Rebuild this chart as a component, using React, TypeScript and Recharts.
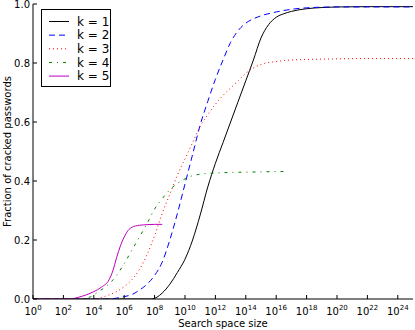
import React from 'react';
import { LineChart, Line, XAxis, YAxis, Legend } from 'recharts';

// log10(search space size) ticks
const xTicks = [0, 2, 4, 6, 8, 10, 12, 14, 16, 18, 20, 22, 24];
const yTicks = [0, 0.2, 0.4, 0.6, 0.8, 1.0];
const seriesNames = ['k = 1', 'k = 2', 'k = 3', 'k = 4', 'k = 5'];

const k1Log = [0, 7.8, 8.5, 9, 9.5, 10, 10.5, 11, 11.5, 12, 12.5, 13, 13.5, 14, 14.5, 15, 15.5, 16, 16.5, 17, 18, 19, 20, 22, 25];
const k1Frac = [0, 0, 0.02, 0.05, 0.09, 0.135, 0.2, 0.285, 0.38, 0.46, 0.53, 0.6, 0.67, 0.74, 0.81, 0.885, 0.93, 0.955, 0.967, 0.975, 0.984, 0.988, 0.99, 0.991, 0.991];

const k2Log = [0, 5, 5.5, 6, 6.5, 7, 7.5, 8, 8.5, 9, 9.5, 10, 10.5, 11, 11.5, 12, 12.5, 13, 13.5, 14, 14.5, 15, 16, 17, 18, 20, 25];
const k2Frac = [0, 0, 0.003, 0.008, 0.015, 0.03, 0.05, 0.08, 0.125, 0.2, 0.29, 0.39, 0.49, 0.59, 0.67, 0.745, 0.81, 0.87, 0.91, 0.935, 0.95, 0.96, 0.973, 0.982, 0.987, 0.99, 0.99];

const k3Log = [0, 4, 4.5, 5, 5.5, 6, 6.5, 7, 7.5, 8, 8.5, 9, 9.5, 10, 10.5, 11, 11.5, 12, 12.5, 13, 13.5, 14, 14.5, 15, 16, 17, 18, 20, 22, 25];
const k3Frac = [0, 0, 0.005, 0.014, 0.025, 0.042, 0.065, 0.1, 0.15, 0.215, 0.29, 0.355, 0.42, 0.475, 0.53, 0.585, 0.625, 0.66, 0.69, 0.715, 0.74, 0.765, 0.783, 0.795, 0.805, 0.81, 0.812, 0.814, 0.815, 0.815];

const k4Log = [0, 3.3, 3.8, 4.3, 4.8, 5.5, 6, 6.5, 7, 7.5, 8, 8.5, 9, 9.5, 10, 10.5, 11, 12, 13, 14, 15, 16, 16.7];
const k4Frac = [0, 0, 0.008, 0.025, 0.042, 0.08, 0.12, 0.165, 0.21, 0.255, 0.305, 0.34, 0.37, 0.392, 0.407, 0.418, 0.423, 0.427, 0.429, 0.43, 0.431, 0.432, 0.432];

const k5Log = [0, 2.4, 3, 3.5, 4, 4.5, 5, 5.25, 5.5, 5.75, 6, 6.25, 6.5, 7, 7.5, 8, 8.5];
const k5Frac = [0, 0, 0.006, 0.014, 0.025, 0.04, 0.065, 0.095, 0.14, 0.18, 0.21, 0.232, 0.243, 0.25, 0.252, 0.253, 0.253];

const toPoints = (xs: number[], ys: number[]) => xs.map((x, i) => ({ x, y: ys[i] }));

const series = [
  { name: seriesNames[0], data: toPoints(k1Log, k1Frac), color: '#000000', dash: undefined as string | undefined },
  { name: seriesNames[1], data: toPoints(k2Log, k2Frac), color: '#0000ff', dash: '6 4' },
  { name: seriesNames[2], data: toPoints(k3Log, k3Frac), color: '#ff0000', dash: '1 3' },
  { name: seriesNames[3], data: toPoints(k4Log, k4Frac), color: '#008000', dash: '3 5 1 5' },
  { name: seriesNames[4], data: toPoints(k5Log, k5Frac), color: '#bf00bf', dash: undefined },
];

const FONT = 'DejaVu Sans';

const BottomTick = (props: any) => {
  const { x, y, payload } = props;
  return (
    <g>
      <line x1={x} x2={x} y1={y} y2={y - 4} stroke="#000" strokeWidth={1} />
      <text x={x} y={y + 16} textAnchor="middle" fontSize={10} fontFamily={FONT} fill="#000">
        <tspan>10</tspan>
        <tspan dy={-5} fontSize={7}>{payload.value}</tspan>
      </text>
    </g>
  );
};

const TopTick = (props: any) => {
  const { x, y } = props;
  return <line x1={x} x2={x} y1={y} y2={y + 4} stroke="#000" strokeWidth={1} />;
};

const LeftTick = (props: any) => {
  const { x, y, payload } = props;
  return (
    <g>
      <line x1={x} x2={x + 4} y1={y} y2={y} stroke="#000" strokeWidth={1} />
      <text x={x - 3} y={y + 3.6} textAnchor="end" fontSize={10} fontFamily={FONT} fill="#000">
        {Number(payload.value).toFixed(1)}
      </text>
    </g>
  );
};

const RightTick = (props: any) => {
  const { x, y } = props;
  return <line x1={x} x2={x - 4} y1={y} y2={y} stroke="#000" strokeWidth={1} />;
};

const LegendBox = () => {
  const rowH = 13.65;
  return (
    <svg width={70} height={78} style={{ display: 'block' }}>
      <rect x={0.5} y={0.5} width={69} height={77} fill="#fff" stroke="#000" strokeWidth={1} />
      {series.map((s, i) => {
        const cy = 12.5 + i * rowH;
        return (
          <g key={s.name}>
            <line x1={8} x2={28} y1={cy} y2={cy} stroke={s.color} strokeWidth={1} strokeDasharray={s.dash} />
            <text x={36} y={cy + 4.3} fontSize={12} fontFamily={FONT} fill="#000">{s.name}</text>
          </g>
        );
      })}
    </svg>
  );
};

export default function App() {
  return (
    <div style={{ position: 'absolute', left: 0, top: 0, width: 415, height: 330, background: '#fff' }}>
      <LineChart width={415} height={330} margin={{ top: 4, right: 2, bottom: 0, left: 0 }}>
        <XAxis
          xAxisId="bottom"
          dataKey="x"
          type="number"
          domain={[0, 25]}
          allowDataOverflow
          ticks={xTicks}
          interval={0}
          height={31}
          tickSize={0}
          tickMargin={0}
          tickLine={false}
          axisLine={{ stroke: '#000', strokeWidth: 1 }}
          tick={<BottomTick />}
          label={{
            content: (p: any) => (
              <text
                x={p.viewBox.x + p.viewBox.width / 2}
                y={p.viewBox.y + 28}
                textAnchor="middle"
                fontSize={10}
                fontFamily={FONT}
                fill="#000"
              >
                Search space size
              </text>
            ),
          }}
        />
        <XAxis
          xAxisId="top"
          orientation="top"
          dataKey="x"
          type="number"
          domain={[0, 25]}
          allowDataOverflow
          ticks={xTicks}
          interval={0}
          height={0}
          tickSize={0}
          tickMargin={0}
          tickLine={false}
          axisLine={{ stroke: '#000', strokeWidth: 1 }}
          tick={<TopTick />}
        />
        <YAxis
          yAxisId="left"
          type="number"
          domain={[0, 1]}
          allowDataOverflow
          ticks={yTicks}
          interval={0}
          width={33}
          tickSize={0}
          tickMargin={0}
          tickLine={false}
          axisLine={{ stroke: '#000', strokeWidth: 1 }}
          tick={<LeftTick />}
          label={{
            content: (p: any) => {
              const cx = 11;
              const cy = p.viewBox.y + p.viewBox.height / 2;
              return (
                <text
                  x={cx}
                  y={cy}
                  transform={`rotate(-90, ${cx}, ${cy})`}
                  textAnchor="middle"
                  fontSize={10}
                  fontFamily={FONT}
                  fill="#000"
                >
                  Fraction of cracked passwords
                </text>
              );
            },
          }}
        />
        <YAxis
          yAxisId="right"
          orientation="right"
          type="number"
          domain={[0, 1]}
          allowDataOverflow
          ticks={yTicks}
          interval={0}
          width={0}
          tickSize={0}
          tickMargin={0}
          tickLine={false}
          axisLine={{ stroke: '#000', strokeWidth: 1 }}
          tick={<RightTick />}
        />
        {series.map((s) => (
          <Line
            key={s.name}
            xAxisId="bottom"
            yAxisId="left"
            data={s.data}
            dataKey="y"
            name={s.name}
            type="monotone"
            stroke={s.color}
            strokeWidth={1}
            strokeDasharray={s.dash}
            dot={false}
            activeDot={false}
            isAnimationActive={false}
          />
        ))}
        <Legend
          layout="vertical"
          align="center"
          verticalAlign="middle"
          wrapperStyle={{ left: 41, top: 9, width: 70, height: 78 }}
          content={<LegendBox />}
        />
      </LineChart>
    </div>
  );
}
